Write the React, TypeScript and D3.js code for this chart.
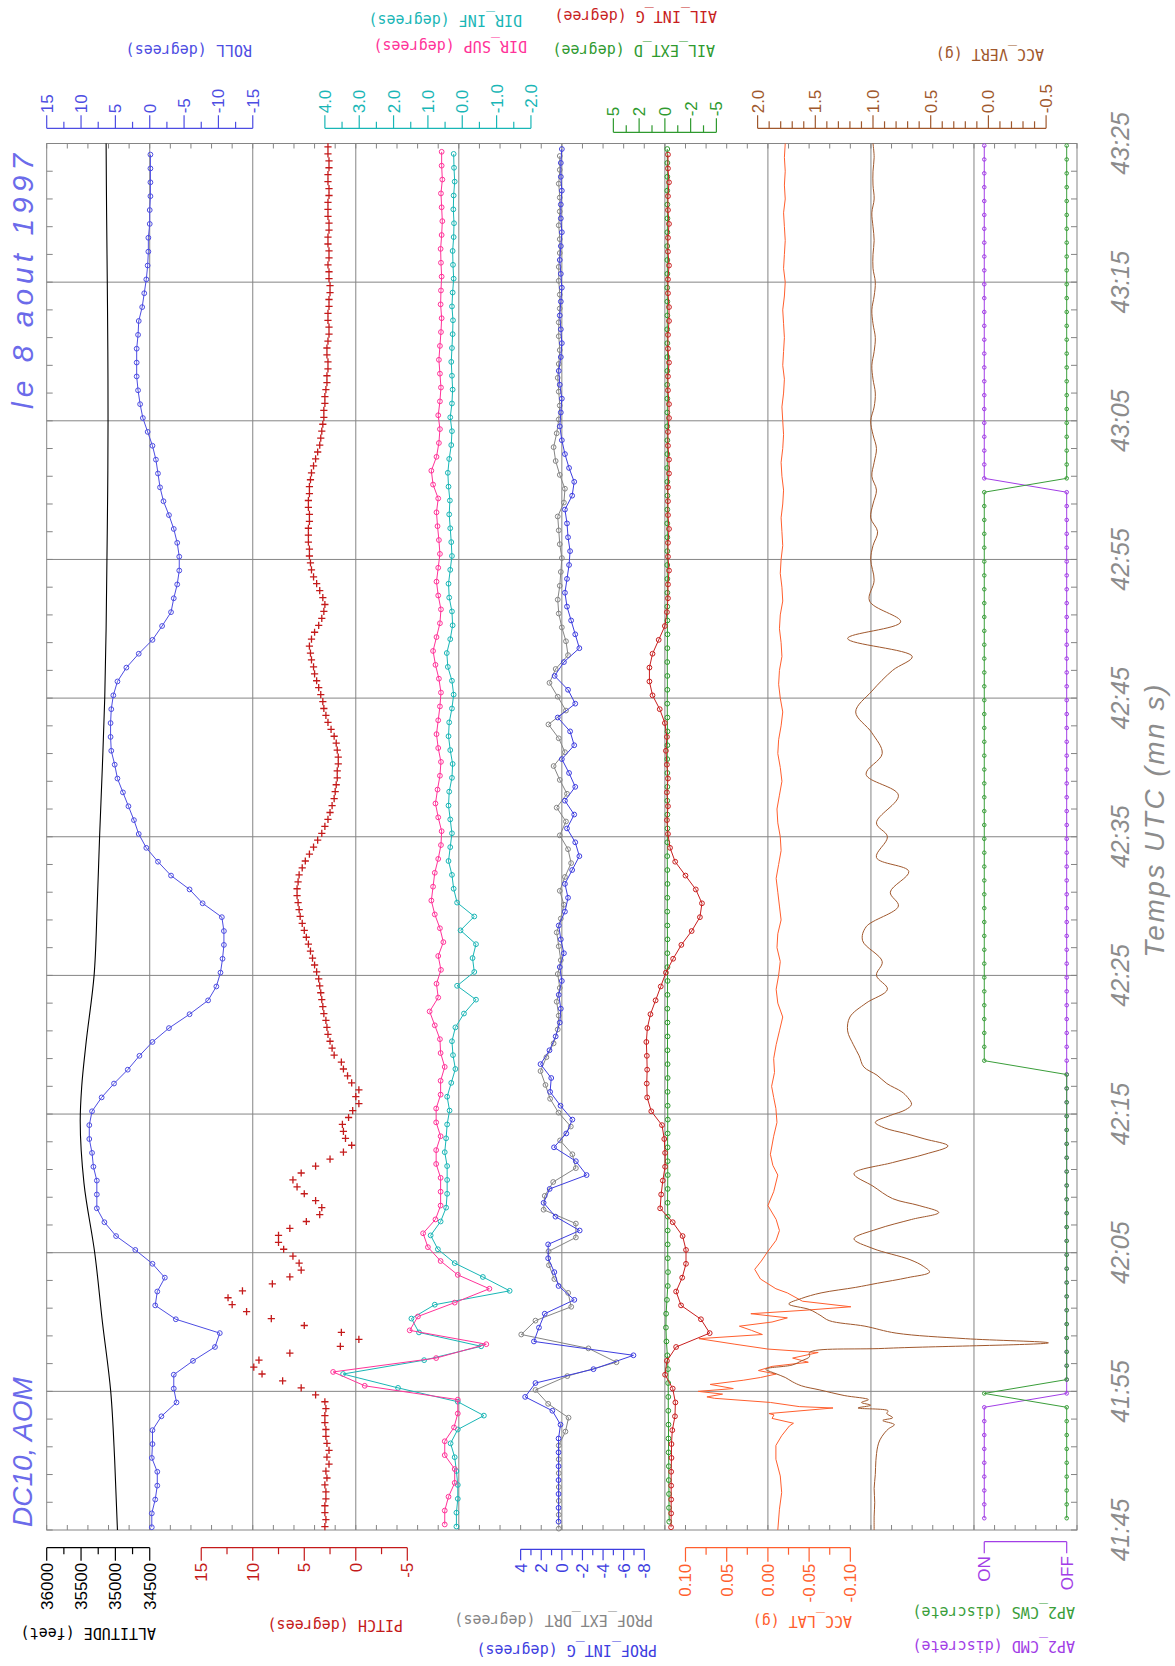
import React from 'react';
import * as d3 from 'd3';

// time axis, seconds after 41:45 UTC
const timeLabels = ['41:45', '41:55', '42:05', '42:15', '42:25', '42:35', '42:45', '42:55', '43:05', '43:15', '43:25'];

// ALTITUDE (feet), continuous trace
const altTimes = [0, 5, 10, 15, 20, 25, 29.5, 32, 35, 40, 45, 50, 55, 60, 65, 70, 75, 80, 85, 90, 95, 100];
const altValues = [34970, 35010, 35068, 35189, 35301, 35457, 35512, 35490, 35430, 35310, 35265, 35230, 35190, 35155, 35135, 35123, 35112, 35107, 35110, 35118, 35128, 35135];

// ROLL (degrees), one sample per second
const rollStart = 0.2;
const rollValues = [
  -0.3, -0.3, -0.8, -1.1, -1.1, -0.3, -0.4, -0.4, -1.7, -3.9,
  -3.5, -3.5, -6.3, -9.5, -10.2, -3.8, -0.8, -1.1, -2.2, -0.4,
  2.1, 4.9, 6.6, 7.7, 7.7, 7.7, 8.2, 8.4, 8.8, 8.8,
  8.4, 7.0, 5.2, 3.2, 1.5, -0.4, -2.8, -5.8, -8.5, -9.7,
  -10.3, -10.6, -10.8, -10.8, -10.5, -7.7, -5.8, -3.1, -1.2, 0.5,
  1.6, 2.3, 3.1, 3.9, 4.7, 5.1, 5.6, 5.7, 5.7, 5.6,
  5.3, 4.7, 3.4, 1.6, -0.4, -1.8, -3.1, -3.5, -4.0, -4.3,
  -4.3, -4.0, -3.5, -2.8, -2.0, -1.5, -1.2, -0.9, -0.4, 0.3,
  1.0, 1.4, 1.7, 1.9, 1.9, 1.9, 1.7, 1.6, 1.1, 0.8,
  0.5, 0.3, 0.2, 0.2, 0.0, 0.0, -0.1, -0.1, -0.1, -0.1,
];

// PITCH (degrees), two samples per second
const pitchStart = 0.25;
const pitchValues = [
  3.0, 2.9, 3.0, 3.0, 2.9, 2.9, 3.0, 2.8, 2.9, 2.6, 2.8, 2.6, 2.8, 2.9, 2.9, 3.0, 3.0, 2.9, 3.0,
  3.9, 5.3, 7.1, 9.1, 9.9, 9.4, 6.4, 1.5, -0.3, 1.4,
  5.0, 8.2, 10.6, 12.0, 12.4, 11.0, 8.1, 6.4, 5.3, 5.5,
  6.1, 7.0, 7.5, 7.5, 6.4, 4.8, 3.5, 3.3, 3.9, 5.0,
  5.7, 6.1, 5.3, 3.9, 2.5, 1.2, 0.4, 1.0, 1.2, 1.3,
  0.7, 0.3, -0.3, 0.0, -0.3, 0.4, 0.8, 1.2, 1.4, 2.1,
  2.3, 2.5, 2.7, 2.8, 2.9, 3.1, 3.2, 3.3, 3.4, 3.5,
  3.6, 3.8, 4.0, 4.2, 4.4, 4.6, 4.8, 5.0, 5.2, 5.4,
  5.5, 5.6, 5.7, 5.7, 5.6, 5.5, 5.2, 4.9, 4.5, 4.1,
  3.7, 3.3, 3.0, 2.7, 2.5, 2.3, 2.1, 2.0, 1.9, 1.8, 1.8,
  1.7, 1.7, 1.8, 1.9, 2.1, 2.4, 2.7, 2.9, 3.1, 3.2,
  3.4, 3.6, 3.8, 4.0, 4.1, 4.3, 4.4, 4.5, 4.3, 4.0,
  3.6, 3.3, 3.1, 3.0, 3.2, 3.5, 3.8, 4.1, 4.3, 4.4,
  4.5, 4.5, 4.6, 4.6, 4.6, 4.5, 4.5, 4.6, 4.6, 4.5,
  4.5, 4.4, 4.3, 4.1, 3.9, 3.7, 3.5, 3.4, 3.3, 3.2,
  3.1, 3.1, 3.0, 3.0, 2.9, 2.8, 2.8, 2.7, 2.7, 2.8,
  2.8, 2.7, 2.6, 2.6, 2.7, 2.7, 2.6, 2.6, 2.5, 2.5,
  2.6, 2.6, 2.7, 2.6, 2.6, 2.7, 2.7, 2.6, 2.6, 2.7,
  2.7, 2.7, 2.6, 2.6, 2.7, 2.7, 2.6, 2.6, 2.7, 2.7,
];

// DIR_INF / DIR_SUP (degrees)
const dirInfStart = 0.25;
const dirInfValues = [
  0.17, 0.17, 0.13, 0.13, 0.17, 0.22, 0.34, 0.13, -0.63, 0.13,
  1.87, 3.47, 1.11, -0.55, 1.26, 1.48, 0.80, -1.38, -0.60, 0.22,
  0.71, 0.92, 0.63, 0.47, 0.44, 0.44, 0.44, 0.51, 0.47, 0.44,
  0.37, 0.44, 0.32, 0.20, 0.27,
  0.30, 0.20, -0.05, -0.40, 0.15, -0.35, -0.30, -0.40, 0.05, -0.35,
  0.15, 0.25, 0.30, 0.40, 0.35, 0.30, 0.35, 0.40, 0.38, 0.30,
  0.28, 0.35, 0.40, 0.38, 0.30, 0.25, 0.30, 0.42, 0.45, 0.35,
  0.28, 0.30, 0.38, 0.40, 0.35, 0.30, 0.32, 0.35, 0.38, 0.36,
  0.40, 0.42, 0.38, 0.32, 0.30, 0.35, 0.30, 0.28, 0.30, 0.32,
  0.30, 0.28, 0.27, 0.30, 0.28, 0.25, 0.27, 0.28, 0.25, 0.24,
  0.26, 0.25, 0.22, 0.24, 0.25,
];
const dirSupStart = 0.4;
const dirSupValues = [
  0.51, 0.51, 0.40, 0.22, 0.22, 0.51, 0.51, 0.24, 0.13, 0.13,
  2.84, 3.76, 0.76, -0.70, 1.53, 1.29, 0.22, -0.79, 0.13, 0.63,
  1.00, 1.14, 0.78, 0.63, 0.63, 0.63, 0.76, 0.76, 0.63, 0.76,
  0.76, 0.63, 0.63, 0.51, 0.63,
  0.65, 0.80, 0.95, 0.70, 0.75, 0.62, 0.70, 0.55, 0.65, 0.80,
  0.90, 0.85, 0.80, 0.70, 0.62, 0.60, 0.70, 0.78, 0.72, 0.65,
  0.62, 0.70, 0.75, 0.70, 0.65, 0.62, 0.68, 0.78, 0.85, 0.75,
  0.65, 0.62, 0.70, 0.75, 0.70, 0.65, 0.68, 0.72, 0.75, 0.70,
  0.85, 0.90, 0.75, 0.68, 0.65, 0.70, 0.65, 0.62, 0.65, 0.68,
  0.65, 0.62, 0.60, 0.63, 0.62, 0.60, 0.62, 0.63, 0.60, 0.58,
  0.60, 0.62, 0.58, 0.60, 0.60,
];

// PROF_INT_G / PROF_EXT_DRT (degrees)
const profIntStart = 0.6;
const profIntValues = [
  0.32, 0.32, 0.32, 0.32, 0.32, 0.32, 0.32, 0.13, 0.92, 3.56,
  2.56, -3.07, -6.95, 2.71, 2.22, 1.66, -1.21, 0.32, 0.73, 1.33,
  1.33, -1.73, 0.62, 1.77, 1.18, -2.40, -1.36, 0.76, -0.43, -1.02,
  0.13, 1.14, 1.03, 2.07,
  1.2, 0.6, 0.2, 0.1, 0.3, 0.0, 0.2, -0.2, 0.1, 0.3,
  -0.3, -0.6, -0.3, -1.0, -1.7, -1.3, -0.5, -1.2, -0.3, -1.3,
  -0.7, 0.0, -1.2, -0.8, 0.4, -1.3, -0.6, 0.7, -0.2, -1.7,
  -1.3, -0.9, -0.5, -0.3, -0.5, -0.7, -0.8, -0.6, -0.5, -0.3,
  -1.0, -1.2, -0.7, -0.3, 0.0, 0.2, 0.1, 0.0, 0.2, 0.3,
  0.1, 0.0, 0.1, 0.2, 0.1, 0.0, 0.1, 0.2, 0.1, 0.0,
  0.1, 0.1, 0.0, 0.1, 0.1, 0.0,
];
const profExtStart = 0.1;
const profExtValues = [
  0.3, 0.3, 0.3, 0.3, 0.3, 0.3, 0.3, -0.35, -0.65, 1.33,
  2.56, -0.53, -5.30, -2.58, 3.94, 2.56, -0.91, -0.61, 0.73, 1.25,
  1.29, -1.36, -1.36, 1.77, 1.66, 0.84, -1.36, -1.02, 0.17, -0.87,
  0.32, 1.14, 1.59, 2.07,
  1.5, 0.8, 0.4, 0.3, 0.5, 0.2, 0.4, 0.1, 0.3, 0.5,
  0.1, -0.2, 0.2, -0.3, -0.9, -0.6, 0.2, -0.4, 0.5, -0.5,
  0.2, 0.8, -0.3, 0.3, 1.3, -0.4, 0.4, 1.2, 0.6, -0.6,
  -0.4, 0.0, 0.3, 0.4, 0.2, 0.1, 0.0, 0.2, 0.3, 0.4,
  -0.2, -0.3, 0.2, 0.6, 0.8, 0.5, 0.3, 0.2, 0.3, 0.4,
  0.3, 0.2, 0.3, 0.3, 0.2, 0.2, 0.3, 0.3, 0.2, 0.2,
  0.3, 0.2, 0.2, 0.3, 0.2, 0.2,
];

// AIL_INT_G / AIL_EXT_D (degree)
const ailIntStart = 0.2;
const ailIntValues = [
  -0.60, -0.61, -0.61, -0.61, -0.61, -0.64, -0.64, -0.72, -0.98, -1.02,
  -0.76, -0.02, -0.20, -1.09, -4.35, -3.50, -1.57, -1.09, -1.68, -2.05,
  -2.05, -1.72, -0.76, 0.46, 0.36, 0.20, -0.02, -0.02, 0.06, 0.28,
  1.32, 1.72, 1.76, 1.72,
  1.75, 1.8, 1.7, 1.4, 0.9, 0.4, -0.1, -0.8, -1.6, -2.6,
  -3.4, -3.6, -3.0, -2.0, -1.0, -0.5, -0.3, -0.2, -0.3, -0.2,
  -0.3, -0.2, -0.1, -0.2, 0.0, 0.5, 1.2, 1.5, 1.5, 1.2,
  0.6, 0.0, -0.2, -0.3,
  -0.3, -0.4, -0.3, -0.3, -0.4, -0.3, -0.3, -0.3, -0.4, -0.4,
  -0.3, -0.3, -0.4, -0.4, -0.3, -0.3, -0.4, -0.3, -0.3, -0.4,
  -0.4, -0.3, -0.3, -0.4, -0.3, -0.3, -0.4, -0.3, -0.3, -0.4,
  -0.3, -0.3,
];
const ailExtStart = 0.6;
const ailExtValues = [
  -0.42, -0.40, -0.40, -0.38, -0.38, -0.36, -0.35, -0.35, -0.33, -0.33, -0.32,
  -0.30, -0.24, -0.15, -0.10, -0.12, -0.20, -0.28, -0.30, -0.28, -0.27,
  -0.27, -0.28, -0.26, -0.27, -0.28, -0.27, -0.26, -0.27, -0.28, -0.27,
  -0.26, -0.27, -0.26, -0.25, -0.26, -0.25, -0.24, -0.25, -0.26, -0.25,
  -0.24, -0.25, -0.24, -0.23, -0.24, -0.25, -0.24, -0.23, -0.24, -0.25,
  -0.24, -0.23, -0.24, -0.24, -0.23, -0.24, -0.25, -0.24, -0.23, -0.24,
  -0.24, -0.23, -0.24, -0.25, -0.24, -0.23, -0.24, -0.24, -0.23, -0.24,
  -0.24, -0.23, -0.24, -0.25, -0.24, -0.23, -0.24, -0.24, -0.23, -0.24,
  -0.24, -0.23, -0.24, -0.25, -0.24, -0.23, -0.24, -0.24, -0.23, -0.24,
  -0.24, -0.23, -0.24, -0.25, -0.24, -0.23, -0.24, -0.24, -0.23,
];

// ACC_LAT (g), continuous trace
const latTimes = [
  0, 1.5, 2.7, 3.9, 5.1, 6.1, 6.8, 7.5, 7.7, 8.05, 8.3, 8.4, 8.8, 8.9, 9.2, 9.5, 9.6, 9.8, 10.0, 10.2,
  10.5, 10.8, 11.0, 11.25, 11.5, 11.8, 12.1, 12.4, 12.8, 13.05, 13.4, 13.8, 14.1, 14.4, 14.7, 15.0, 15.3, 15.6, 15.85, 16.1,
  16.5, 17.1, 17.4, 18.1, 18.8, 19.4, 20.1, 20.9, 21.6, 22.4, 23.4, 24.4, 25.6, 26.3, 27.1, 28.4, 29.4, 30.4, 31.2, 32.0,
  33.0, 34.0,
  ...d3.range(35, 101),
];
const latValues = [
  -0.012, -0.014, -0.0167, -0.015, -0.0097, -0.0097, -0.0167, -0.026, -0.031, -0.005,
  -0.0074, -0.0013, -0.079, -0.038, -0.003, 0.065, 0.074, 0.055, 0.0845, 0.042,
  0.07, 0.03, 0.009, -0.01, 0.0115, -0.005, -0.049, -0.03, -0.061, 0.0,
  0.04, 0.0837, 0.0067, 0.02, 0.0346, -0.005, -0.0236, 0.0207, -0.045, -0.1006,
  -0.042, -0.0236, -0.0097, 0.009, 0.016, 0.008, 0.0, -0.01, -0.014, -0.01,
  0.0, -0.007, -0.012, -0.006, -0.003, -0.007, -0.011, -0.0097, -0.007, -0.0045,
  -0.008, -0.007,
  -0.010, -0.014, -0.018, -0.012, -0.010, -0.013, -0.015, -0.011, -0.012, -0.016,
  -0.014, -0.012, -0.010, -0.013, -0.016, -0.015, -0.012, -0.011, -0.014, -0.017,
  -0.015, -0.012, -0.013, -0.016, -0.018, -0.015, -0.013, -0.014, -0.017, -0.016,
  -0.014, -0.015, -0.018, -0.017, -0.015, -0.016, -0.018, -0.017, -0.016, -0.018,
  -0.019, -0.017, -0.016, -0.018, -0.019, -0.018, -0.017, -0.019, -0.020, -0.018,
  -0.019, -0.020, -0.019, -0.018, -0.020, -0.021, -0.019, -0.020, -0.021, -0.020,
  -0.019, -0.021, -0.020, -0.021, -0.020, -0.021,
];

// ACC_VERT (g), continuous trace
const vertTimes = [
  0, 1, 2, 3, 4, 5, 6, 6.5, 7, 7.3, 7.6, 7.9, 8.1, 8.4, 8.6, 8.8, 9.0, 9.2, 9.4, 9.7,
  10.1, 10.4, 10.7, 11.0, 11.3, 11.6, 11.9, 12.2, 12.5, 12.8, 13.1, 13.5, 13.8, 14.2, 14.7, 15.1, 15.5, 15.9, 16.3, 16.7,
  17.1, 17.5, 17.8, 18.2, 18.6, 19.0, 19.5, 20.3, 21.0, 21.7, 22.4, 22.9, 23.4, 23.9, 24.8, 25.7, 26.5, 27.1, 27.7, 28.2,
  28.6, 29.0, 29.4, 29.9, 30.3, 30.7, 31.2, 31.6, 32.2, 32.8, 33.4,
  34.2, 35, 36, 37, 38, 39, 40, 41, 42.5, 43.5,
  45, 46, 47.5, 48.5, 50, 51, 53, 54.5, 56, 57.5,
  59, 60.5, 62, 63, 64.3, 65.5, 67, 68.5,
  ...d3.range(70, 101),
];
const vertValues = [
  0.99, 0.99, 0.985, 0.99, 0.98, 0.975, 0.96, 0.94, 0.9, 0.865, 0.815, 0.915, 0.83, 0.88, 0.87, 1.13, 1.02, 1.1, 1.04, 1.25,
  1.46, 1.62, 1.7, 1.76, 1.85, 1.93, 1.7, 1.62, 1.55, 1.55, 0.9, -0.52, 0.2, 0.8, 1.07, 1.38, 1.46, 1.55, 1.73, 1.62,
  1.45, 1.15, 0.96, 0.7, 0.51, 0.56, 0.68, 1.0, 1.165, 0.965, 0.665, 0.43, 0.6, 0.83, 1.0, 1.165, 0.83, 0.55, 0.35, 0.55,
  0.72, 0.9, 0.98, 0.85, 0.72, 0.666, 0.7, 0.75, 0.88, 0.965, 1.08,
  1.12, 1.17, 1.22, 1.2, 1.06, 0.875, 0.97, 0.92, 1.09, 1.06,
  0.78, 0.85, 0.69, 0.97, 0.875, 0.97, 0.78, 1.06, 0.92, 1.01,
  1.15, 1.01, 0.83, 0.66, 1.22, 0.76, 1.03, 0.99,
  1.02, 1.0, 0.96, 1.02, 1.0, 0.97, 1.01, 0.99, 0.97, 1.0, 1.02, 0.99, 0.98, 1.0, 1.01, 0.99,
  0.98, 1.0, 1.01, 0.99, 0.98, 1.0, 1.0, 0.99, 1.0, 1.01, 0.99, 1.0, 1.0, 0.99, 1.0,
];

// AP2_CWS / AP2_CMD (1 = ON, 0 = OFF), one sample per second
const ap2Start = 0.85;
const cwsValues = [
  0, 0, 0, 0, 0, 0, 0, 0, 0, 1, 0, 0, 0, 0, 0, 0, 0, 0, 0, 0,
  0, 0, 0, 0, 0, 0, 0, 0, 0, 0, 0, 0, 0, 1, 1, 1, 1, 1, 1, 1,
  1, 1, 1, 1, 1, 1, 1, 1, 1, 1, 1, 1, 1, 1, 1, 1, 1, 1, 1, 1,
  1, 1, 1, 1, 1, 1, 1, 1, 1, 1, 1, 1, 1, 1, 1, 0, 0, 0, 0, 0,
  0, 0, 0, 0, 0, 0, 0, 0, 0, 0, 0, 0, 0, 0, 0, 0, 0, 0, 0, 0,
];
const cmdValues = [
  1, 1, 1, 1, 1, 1, 1, 1, 1, 0, 0, 0, 0, 0, 0, 0, 0, 0, 0, 0,
  0, 0, 0, 0, 0, 0, 0, 0, 0, 0, 0, 0, 0, 0, 0, 0, 0, 0, 0, 0,
  0, 0, 0, 0, 0, 0, 0, 0, 0, 0, 0, 0, 0, 0, 0, 0, 0, 0, 0, 0,
  0, 0, 0, 0, 0, 0, 0, 0, 0, 0, 0, 0, 0, 0, 0, 1, 1, 1, 1, 1,
  1, 1, 1, 1, 1, 1, 1, 1, 1, 1, 1, 1, 1, 1, 1, 1, 1, 1, 1, 1,
];

const MONO = '"DejaVu Sans Mono", monospace';
const SANS = '"Liberation Sans", Arial, sans-serif';

const C = {
  roll: '#4d4de2',
  pitch: '#c41a1a',
  dirSup: '#ff3399',
  dirInf: '#19b6b6',
  profInt: '#3e3ee0',
  profExt: '#858585',
  ailInt: '#c81e1e',
  ailExt: '#2f9a2f',
  lat: '#ff5f2e',
  vert: '#a0582d',
  cws: '#3a9e3a',
  cmd: '#a23ee6',
  grid: '#858585',
  time: '#8c8c8c',
  note: '#6b6bea',
};

const sampled = (t0: number, step: number, values: number[]) =>
  values.map((v, i) => [t0 + i * step, v] as [number, number]);
const paired = (times: number[], values: number[]) =>
  values.map((v, i) => [times[i], v] as [number, number]);

function ChannelAxis({ scale, major, minor, labels, base, side, color, majorLen, minorLen, gap }: any) {
  const dir = side === 'top' ? -1 : 1;
  const [r0, r1] = scale.range();
  return (
    <g stroke={color} fill="none" strokeWidth={1.2}>
      <line x1={r0} x2={r1} y1={base} y2={base} />
      {minor.map((v: number) => (
        <line key={'m' + v} x1={scale(v)} x2={scale(v)} y1={base} y2={base + dir * minorLen} />
      ))}
      {major.map((v: number) => (
        <line key={'M' + v} x1={scale(v)} x2={scale(v)} y1={base} y2={base + dir * majorLen} />
      ))}
      {major.map((v: number, i: number) => {
        const x = scale(v);
        const ly = base + dir * (majorLen + gap);
        return (
          <text
            key={'t' + v}
            x={x}
            y={ly}
            dy="0.35em"
            transform={`rotate(-90 ${x} ${ly})`}
            textAnchor={side === 'top' ? 'start' : 'end'}
            fill={color}
            stroke="none"
            fontFamily={SANS}
            fontSize={17}
          >
            {labels[i]}
          </text>
        );
      })}
    </g>
  );
}

function Title({ x, y, color, text }: any) {
  return (
    <text x={x} y={y} dy="0.35em" transform={`rotate(180 ${x} ${y})`} fill={color} fontFamily={MONO} fontSize={15}>
      {text}
    </text>
  );
}

export default function App() {
  const y = d3.scaleLinear().domain([0, 100]).range([1530, 143.5]);
  const col = d3.scaleLinear().domain([0, 10]).range([46.7, 1077]);
  const top = y(100);
  const bottom = y(0);

  const altX = d3.scaleLinear().domain([36000, 34500]).range([col(0), col(1)]);
  const rollX = d3.scaleLinear().domain([15, -15]).range([col(0), col(2)]);
  const pitchX = d3.scaleLinear().domain([15, -5]).range([col(1.5), col(3.5)]);
  const dirX = d3.scaleLinear().domain([4, -2]).range([col(2.7), col(4.7)]);
  const profX = d3.scaleLinear().domain([4, -8]).range([col(4.6), col(5.8)]);
  const ailX = d3.scaleLinear().domain([5, -5]).range([col(5.5), col(6.5)]);
  const latX = d3.scaleLinear().domain([0.1, -0.1]).range([col(6.2), col(7.8)]);
  const vertX = d3.scaleLinear().domain([2, -0.5]).range([col(6.9), col(9.7)]);
  const ap2X = d3.scaleLinear().domain([1, 0]).range([col(9.1), col(9.9)]);

  const path = (pts: [number, number][], sx: any, curve: any = d3.curveLinear) =>
    d3
      .line<[number, number]>()
      .x((d) => sx(d[1]))
      .y((d) => y(d[0]))
      .curve(curve)(pts) as string;

  const circles = (pts: [number, number][], sx: any, color: string, r = 2.4) =>
    pts.map((d, i) => (
      <circle key={i} cx={sx(d[1])} cy={y(d[0])} r={r} fill="none" stroke={color} strokeWidth={1} />
    ));

  const markedSeries = (pts: [number, number][], sx: any, color: string, r = 2.4) => (
    <g>
      <path d={path(pts, sx)} fill="none" stroke={color} strokeWidth={1} />
      {circles(pts, sx, color, r)}
    </g>
  );

  const roll = sampled(rollStart, 1, rollValues);
  const pitch = sampled(pitchStart, 0.5, pitchValues);
  const dirInf = sampled(dirInfStart, 1, dirInfValues);
  const dirSup = sampled(dirSupStart, 1, dirSupValues);
  const profInt = sampled(profIntStart, 1, profIntValues);
  const profExt = sampled(profExtStart, 1, profExtValues);
  const ailInt = sampled(ailIntStart, 1, ailIntValues);
  const ailExt = sampled(ailExtStart, 1, ailExtValues);
  const cws = sampled(ap2Start, 1, cwsValues);
  const cmd = sampled(ap2Start, 1, cmdValues);
  const alt = paired(altTimes, altValues);
  const lat = paired(latTimes, latValues);
  const vert = paired(vertTimes, vertValues);

  const vertMinor = d3.range(-0.4, 2.0, 0.1).filter((v) => Math.abs(Math.round(v * 2) - v * 2) > 0.01);
  const timeX = 1120;

  return (
    <div style={{ position: 'absolute', left: 0, top: 0 }}>
      <svg width={1175} height={1666} viewBox="0 0 1175 1666" style={{ display: 'block', background: '#fff' }}>
        <rect x={0} y={0} width={1175} height={1666} fill="#fff" />

        {/* grid */}
        <g stroke={C.grid} strokeWidth={1} fill="none">
          {d3.range(1, 10).map((j) => (
            <line key={'v' + j} x1={col(j)} x2={col(j)} y1={top} y2={bottom} />
          ))}
          {d3.range(10, 100, 10).map((t) => (
            <line key={'h' + t} x1={col(0)} x2={col(10)} y1={y(t)} y2={y(t)} />
          ))}
          {d3.range(0, 101, 2).map((t) => (
            <g key={'lt' + t}>
              <line x1={col(0)} x2={col(0) + 6} y1={y(t)} y2={y(t)} />
              <line x1={col(10) - 6} x2={col(10)} y1={y(t)} y2={y(t)} />
            </g>
          ))}
          {d3.range(0, 51).map((j) => (
            <g key={'bt' + j}>
              <line x1={col(j / 5)} x2={col(j / 5)} y1={top} y2={top + 5} />
              <line x1={col(j / 5)} x2={col(j / 5)} y1={bottom - 5} y2={bottom} />
            </g>
          ))}
          <rect x={col(0)} y={top} width={col(10) - col(0)} height={bottom - top} />
        </g>

        {/* ALTITUDE */}
        <path d={path(alt, altX, d3.curveMonotoneY)} fill="none" stroke="#000" strokeWidth={1.1} />

        {/* ROLL */}
        {markedSeries(roll, rollX, C.roll)}

        {/* PITCH */}
        <g stroke={C.pitch} strokeWidth={1.3} fill="none">
          {pitch.map((d, i) => {
            const px = pitchX(d[1]);
            const py = y(d[0]);
            return <path key={i} d={`M${px - 3.6},${py}H${px + 3.6}M${px},${py - 3.6}V${py + 3.6}`} />;
          })}
        </g>

        {/* DIR */}
        {markedSeries(dirInf, dirX, C.dirInf)}
        {markedSeries(dirSup, dirX, C.dirSup)}

        {/* PROF */}
        {markedSeries(profExt, profX, C.profExt)}
        {markedSeries(profInt, profX, C.profInt)}

        {/* AIL */}
        {markedSeries(ailExt, ailX, C.ailExt)}
        {markedSeries(ailInt, ailX, C.ailInt)}

        {/* ACC_LAT / ACC_VERT */}
        <path d={path(lat, latX)} fill="none" stroke={C.lat} strokeWidth={1} />
        <path d={path(vert, vertX, d3.curveCatmullRom.alpha(0.5))} fill="none" stroke={C.vert} strokeWidth={1} />

        {/* AP2 */}
        {markedSeries(cmd, ap2X, C.cmd, 1.8)}
        {markedSeries(cws, ap2X, C.cws, 1.8)}

        {/* top axes */}
        <ChannelAxis scale={rollX} major={[15, 10, 5, 0, -5, -10, -15]} minor={[12.5, 7.5, 2.5, -2.5, -7.5, -12.5]}
          labels={['15', '10', '5', '0', '-5', '-10', '-15']} base={128.3} side="top" color={C.roll} majorLen={13} minorLen={6.5} gap={2} />
        <ChannelAxis scale={dirX} major={[4, 3, 2, 1, 0, -1, -2]} minor={[3.5, 2.5, 1.5, 0.5, -0.5, -1.5]}
          labels={['4.0', '3.0', '2.0', '1.0', '0.0', '-1.0', '-2.0']} base={128.3} side="top" color={C.dirInf} majorLen={13} minorLen={6.5} gap={2} />
        <ChannelAxis scale={ailX} major={[5, 2.5, 0, -2.5, -5]} minor={[3.75, 1.25, -1.25, -3.75]}
          labels={['5', '2', '0', '-2', '-5']} base={132.3} side="top" color={C.ailExt} majorLen={14} minorLen={7} gap={2} />
        <ChannelAxis scale={vertX} major={[2, 1.5, 1, 0.5, 0, -0.5]} minor={vertMinor}
          labels={['2.0', '1.5', '1.0', '0.5', '0.0', '-0.5']} base={128.3} side="top" color={C.vert} majorLen={13} minorLen={7} gap={2} />

        {/* bottom axes */}
        <ChannelAxis scale={altX} major={[36000, 35500, 35000, 34500]} minor={[35750, 35250, 34750]}
          labels={['36000', '35500', '35000', '34500']} base={1547.7} side="bottom" color="#000" majorLen={13} minorLen={6.5} gap={2} />
        <ChannelAxis scale={pitchX} major={[15, 10, 5, 0, -5]} minor={[12.5, 7.5, 2.5, -2.5]}
          labels={['15', '10', '5', '0', '-5']} base={1547.7} side="bottom" color={C.pitch} majorLen={13} minorLen={6.5} gap={2} />
        <ChannelAxis scale={profX} major={[4, 2, 0, -2, -4, -6, -8]} minor={[3, 1, -1, -3, -5, -7]}
          labels={['4', '2', '0', '-2', '-4', '-6', '-8']} base={1549.3} side="bottom" color={C.profInt} majorLen={11} minorLen={6} gap={3} />
        <ChannelAxis scale={latX} major={[0.1, 0.05, 0, -0.05, -0.1]} minor={[0.075, 0.025, -0.025, -0.075]}
          labels={['0.10', '0.05', '0.00', '-0.05', '-0.10']} base={1547.7} side="bottom" color={C.lat} majorLen={14} minorLen={7} gap={2} />
        <ChannelAxis scale={ap2X} major={[1, 0]} minor={[]} labels={['ON', 'OFF']} base={1541.7} side="bottom"
          color={C.cmd} majorLen={11.5} minorLen={0} gap={3} />

        {/* channel titles, drawn upside down */}
        <Title x={252} y={50} color={C.roll} text="ROLL (degrees)" />
        <Title x={522} y={20} color={C.dirInf} text="DIR_INF (degrees)" />
        <Title x={527} y={46} color={C.dirSup} text="DIR_SUP (degrees)" />
        <Title x={717} y={16} color={C.ailInt} text="AIL_INT_G (degree)" />
        <Title x={715} y={50} color={C.ailExt} text="AIL_EXT_D (degree)" />
        <Title x={1044} y={54} color={C.vert} text="ACC_VERT (g)" />
        <Title x={156} y={1633} color="#000" text="ALTITUDE (feet)" />
        <Title x={403} y={1625} color={C.pitch} text="PITCH (degrees)" />
        <Title x={653} y={1620} color={C.profExt} text="PROF_EXT_DRT (degrees)" />
        <Title x={657} y={1650} color={C.profInt} text="PROF_INT_G (degrees)" />
        <Title x={852} y={1621} color={C.lat} text="ACC_LAT (g)" />
        <Title x={1075} y={1612} color={C.cws} text="AP2_CWS (discrete)" />
        <Title x={1075} y={1646} color={C.cmd} text="AP2_CMD (discrete)" />

        {/* time labels */}
        {timeLabels.map((lab, i) => {
          const ty = y(i * 10);
          return (
            <text key={lab} x={timeX} y={ty} dy="0.35em" transform={`rotate(-90 ${timeX} ${ty})`} textAnchor="middle"
              fill={C.time} fontFamily={SANS} fontStyle="italic" fontSize={25}>
              {lab}
            </text>
          );
        })}
        <text x={1154} y={820} dy="0.35em" transform="rotate(-90 1154 820)" textAnchor="middle" fill={C.time}
          fontFamily={SANS} fontStyle="italic" fontSize={28} letterSpacing={2.5}>
          Temps UTC (mn s)
        </text>

        {/* flight notes */}
        <text x={22} y={1527} dy="0.35em" transform="rotate(-90 22 1527)" textAnchor="start" fill={C.note}
          fontFamily={SANS} fontStyle="italic" fontSize={28}>
          DC10, AOM
        </text>
        <text x={22} y={409} dy="0.35em" transform="rotate(-90 22 409)" textAnchor="start" fill={C.note}
          fontFamily={SANS} fontStyle="italic" fontSize={30} letterSpacing={5}>
          le 8 aout 1997
        </text>
      </svg>
    </div>
  );
}
